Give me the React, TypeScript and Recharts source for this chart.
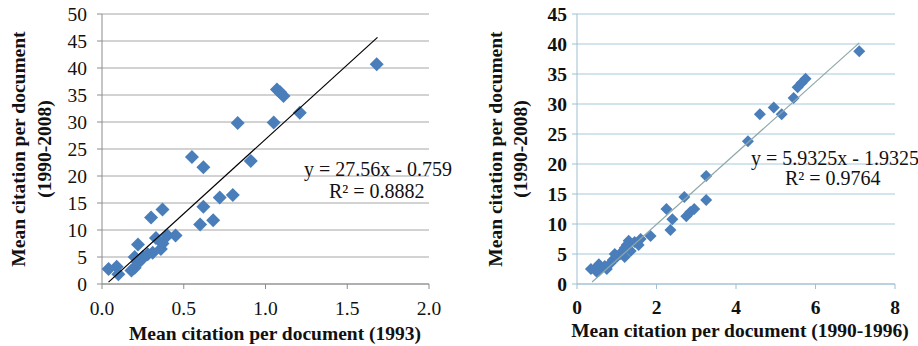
import React from "react";
import { ScatterChart, Scatter, XAxis, YAxis, CartesianGrid, Label } from "recharts";

// left panel: 1993 vs 1990-2008
const leftX = [1.68, 1.07, 1.09, 1.11, 1.21, 0.83, 1.05, 0.91, 0.55, 0.62, 0.8, 0.72, 0.62, 0.68, 0.6, 0.37, 0.3, 0.45, 0.4, 0.33, 0.37, 0.36, 0.31, 0.28, 0.25, 0.22, 0.2, 0.22, 0.18, 0.2, 0.1, 0.09, 0.04, 0.24];
const leftY = [40.7, 36, 35.5, 34.8, 31.7, 29.8, 29.9, 22.8, 23.5, 21.6, 16.5, 16, 14.3, 11.8, 11, 13.8, 12.3, 9, 9, 8.5, 7.5, 6.5, 5.8, 5.5, 5, 7.3, 5, 4, 2.5, 3, 1.8, 3.2, 2.8, 4.5];
const leftXTicks = [0, 0.5, 1, 1.5, 2];
const leftYTicks = [0, 5, 10, 15, 20, 25, 30, 35, 40, 45, 50];
const leftFit = { slope: 27.56, intercept: -0.759, from: 0.04, to: 1.685 };

// right panel: 1990-1996 vs 1990-2008
const rightX = [7.1, 5.75, 5.65, 5.55, 5.45, 5.15, 4.95, 4.6, 4.3, 3.25, 3.25, 2.7, 2.95, 2.85, 2.75, 2.25, 2.4, 2.35, 1.85, 1.6, 1.55, 1.45, 1.3, 1.25, 1.2, 1.15, 1.1, 1.2, 1.35, 1.0, 0.9, 0.85, 0.75, 0.7, 0.55, 0.5, 0.45, 0.35, 0.55, 0.95];
const rightY = [38.8, 34.2, 33.5, 32.8, 31, 28.3, 29.4, 28.3, 23.8, 18, 14, 14.5, 12.5, 12, 11.3, 12.5, 10.8, 9, 8, 7.5, 6.5, 7, 7.2, 6.5, 6, 5.5, 5, 4.5, 5.5, 4.5, 4, 3.5, 2.5, 3, 3.3, 2, 2.5, 2.5, 2.2, 5];
const rightXTicks = [0, 2, 4, 6, 8];
const rightYTicks = [0, 5, 10, 15, 20, 25, 30, 35, 40, 45];
const rightFit = { slope: 5.9325, intercept: -1.9325, from: 0.38, to: 7.1 };

const FONT = "'Liberation Serif', 'Times New Roman', serif";
const BLUE = "#4a7ebb";
const FS = 19.5;

const toPoints = (xs: number[], ys: number[]) => xs.map((x, i) => ({ x, y: ys[i] }));
const fitLine = (f: { slope: number; intercept: number; from: number; to: number }) => [
  { x: f.from, y: f.slope * f.from + f.intercept },
  { x: f.to, y: f.slope * f.to + f.intercept },
];

const diamond = (half: number) => (props: any) => {
  const { cx, cy } = props;
  return (
    <path
      d={`M${cx},${cy - half}L${cx + half},${cy}L${cx},${cy + half}L${cx - half},${cy}Z`}
      fill={BLUE}
    />
  );
};

const noDot = () => <g />;

const txt = (weight: string): React.CSSProperties => ({
  fontFamily: FONT,
  fontSize: FS,
  fontWeight: weight as any,
  fill: "#111",
});

const XTick = (fmt: (v: number) => string, dy: number, weight: string) => (props: any) => {
  const { x, y, payload } = props;
  return (
    <text x={x} y={y + dy} textAnchor="middle" style={txt(weight)}>
      {fmt(payload.value)}
    </text>
  );
};

const YTick = (weight: string) => (props: any) => {
  const { x, y, payload } = props;
  return (
    <text x={x} y={y + 7} textAnchor="end" style={txt(weight)}>
      {payload.value}
    </text>
  );
};

const XTitle = ({ text, cx, y }: { text: string; cx: number; y: number }) => (
  <text x={cx} y={y} textAnchor="middle" style={txt("bold")}>
    {text}
  </text>
);

const YTitle = ({ viewBox, x1, x2 }: any) => {
  const cy = viewBox.y + viewBox.height / 2;
  return (
    <g style={txt("bold")}>
      <text x={x1} y={cy} transform={`rotate(-90 ${x1} ${cy})`} textAnchor="middle" dominantBaseline="central" style={txt("bold")}>
        Mean citation per document
      </text>
      <text x={x2} y={cy} transform={`rotate(-90 ${x2} ${cy})`} textAnchor="middle" dominantBaseline="central" style={txt("bold")}>
        (1990-2008)
      </text>
    </g>
  );
};

const eqStyle = (left: number, top: number): React.CSSProperties => ({
  position: "absolute",
  left,
  top,
  fontFamily: FONT,
  fontSize: 20,
  color: "#111",
  lineHeight: "22px",
  whiteSpace: "nowrap",
});

export default function App() {
  return (
    <div style={{ position: "absolute", left: 0, top: 0, width: 918, height: 346, background: "#fff" }}>
      <div style={{ position: "absolute", left: 0, top: 0 }}>
        <ScatterChart width={460} height={346} margin={{ top: 14, right: 31, left: 0, bottom: 0 }}>
          <CartesianGrid vertical={false} stroke="#a6a6a6" />
          <XAxis
            type="number"
            dataKey="x"
            domain={[0, 2]}
            ticks={leftXTicks}
            height={62}
            tick={XTick((v) => v.toFixed(1), 20, "normal")}
            stroke="#8c8c8c"
            tickSize={5}
            tickMargin={6}
            interval={0}
          >
            <Label content={() => <XTitle text="Mean citation per document (1993)" cx={275} y={340} />} />
          </XAxis>
          <YAxis
            type="number"
            dataKey="y"
            domain={[0, 50]}
            ticks={leftYTicks}
            width={102}
            tick={YTick("normal")}
            stroke="#8c8c8c"
            tickSize={5}
            tickMargin={10}
            interval={0}
          >
            <Label content={(p: any) => <YTitle {...p} x1={18} x2={44} />} />
          </YAxis>
          <Scatter data={toPoints(leftX, leftY)} shape={diamond(7)} isAnimationActive={false} />
          <Scatter
            data={fitLine(leftFit)}
            line={{ stroke: "#000", strokeWidth: 1.2 }}
            shape={noDot}
            isAnimationActive={false}
          />
        </ScatterChart>
        <div style={eqStyle(304, 158)}>y = 27.56x - 0.759</div>
        <div style={eqStyle(329, 180)}>R² = 0.8882</div>
      </div>

      <div style={{ position: "absolute", left: 460, top: 0 }}>
        <ScatterChart width={458} height={346} margin={{ top: 14, right: 23, left: 0, bottom: 0 }}>
          <CartesianGrid vertical={false} stroke="#a9c9dc" />
          <XAxis
            type="number"
            dataKey="x"
            domain={[0, 8]}
            ticks={rightXTicks}
            height={62}
            tick={XTick((v) => String(v), 20, "bold")}
            stroke="#9fbfd2"
            tickSize={5}
            tickMargin={5}
            interval={0}
          >
            <Label content={() => <XTitle text="Mean citation per document (1990-1996)" cx={280} y={337} />} />
          </XAxis>
          <YAxis
            type="number"
            dataKey="y"
            domain={[0, 45]}
            ticks={rightYTicks}
            width={117}
            tick={YTick("bold")}
            stroke="#9fbfd2"
            tickSize={5}
            tickMargin={5}
            interval={0}
          >
            <Label content={(p: any) => <YTitle {...p} x1={35} x2={60} />} />
          </YAxis>
          <Scatter data={toPoints(rightX, rightY)} shape={diamond(6)} isAnimationActive={false} />
          <Scatter
            data={fitLine(rightFit)}
            line={{ stroke: "#8fa7a8", strokeWidth: 1.2 }}
            shape={noDot}
            isAnimationActive={false}
          />
        </ScatterChart>
        <div style={eqStyle(291, 147)}>y = 5.9325x - 1.9325</div>
        <div style={eqStyle(325, 167)}>R² = 0.9764</div>
      </div>
    </div>
  );
}
